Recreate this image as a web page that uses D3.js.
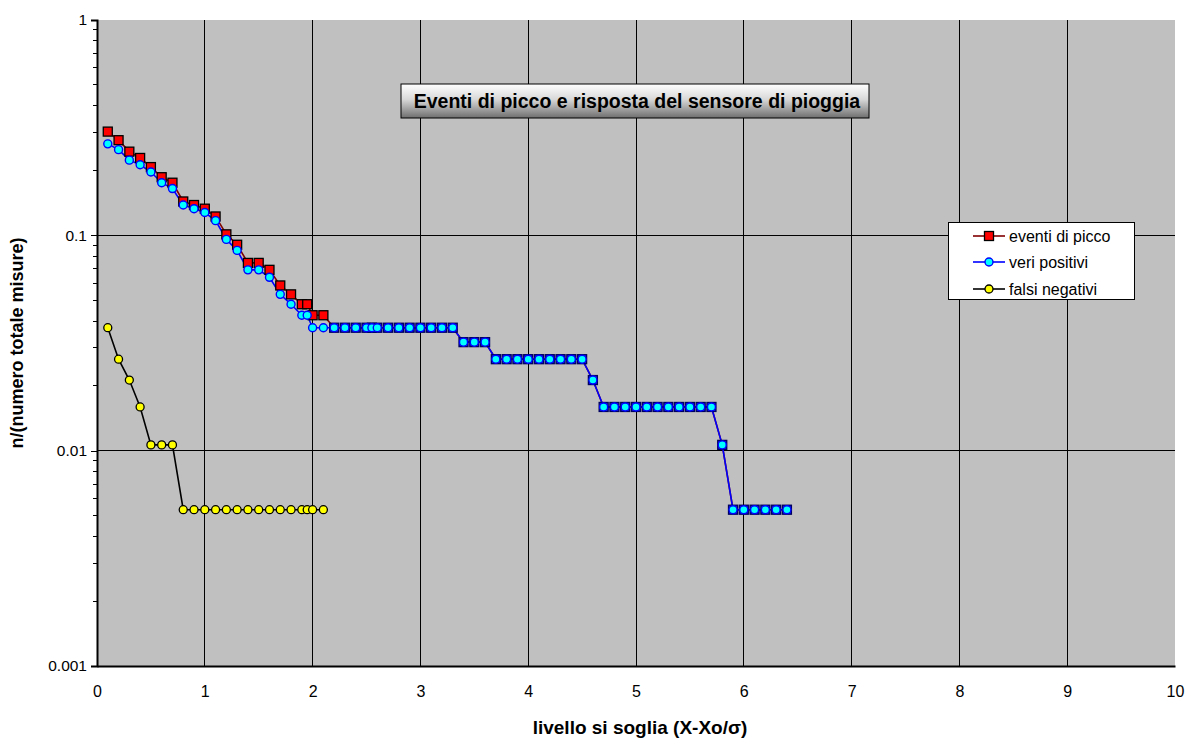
<!DOCTYPE html>
<html>
<head>
<meta charset="utf-8">
<script src="https://cdn.jsdelivr.net/npm/d3@7"></script>
<style>
  html, body { margin: 0; padding: 0; background: #ffffff; }
  svg { display: block; font-family: "Liberation Sans", Arial, sans-serif; }
</style>
</head>
<body>
<svg id="chart" width="1189" height="738"></svg>
<script>
// ---------------- DATA ----------------
const totalMeasures = 188;
// threshold levels (X-Xo/sigma)
const levels = [0.1,0.2,0.3,0.4,0.5,0.6,0.7,0.8,0.9,1.0,1.1,1.2,1.3,1.4,1.5,1.6,1.7,1.8,1.9,1.95,2.0,2.1,
  2.2,2.3,2.4,2.5,2.55,2.6,2.7,2.8,2.9,3.0,3.1,3.2,3.3,3.4,3.5,3.6,3.7,3.8,3.9,4.0,4.1,4.2,4.3,4.4,4.5,
  4.6,4.7,4.8,4.9,5.0,5.1,5.2,5.3,5.4,5.5,5.6,5.7,5.8,5.9,6.0,6.1,6.2,6.3,6.4];
// counts (n) per level
const eventiDiPiccoCounts = [57,52,46,43,39,35,33,27,26,25,23,19,17,14,14,13,11,10,9,9,8,8,
  7,7,7,7,7,7,7,7,7,7,7,7,7,6,6,6,5,5,5,5,5,5,5,5,5,
  4,3,3,3,3,3,3,3,3,3,3,3,2,1,1,1,1,1,1];
const veriPositiviCounts = [50,47,42,40,37,33,31,26,25,24,22,18,16,13,13,12,10,9,8,8,7,7,
  7,7,7,7,7,7,7,7,7,7,7,7,7,6,6,6,5,5,5,5,5,5,5,5,5,
  4,3,3,3,3,3,3,3,3,3,3,3,2,1,1,1,1,1,1];
const falsiNegativiCounts = [7,5,4,3,2,2,2,1,1,1,1,1,1,1,1,1,1,1,1,1,1,1];

const xTicks = [0,1,2,3,4,5,6,7,8,9,10];
const yTicks = [1,0.1,0.01,0.001];
const yTickLabels = ["1","0.1","0.01","0.001"];
const seriesNames = ["eventi di picco","veri positivi","falsi negativi"];
const chartTitle = "Eventi di picco e risposta del sensore di pioggia";
const xTitle = "livello si soglia (X-Xo/\u03C3)";
const yTitle = "n/(numero totale misure)";

// ---------------- BUILD ----------------
const toPoints = counts => counts.map((c, i) => ({x: levels[i], y: c / totalMeasures}));
const series = [
  {name: seriesNames[0], pts: toPoints(eventiDiPiccoCounts), line: "#800000", marker: "square"},
  {name: seriesNames[1], pts: toPoints(veriPositiviCounts), line: "#0000ff", marker: "circleBlue"},
  {name: seriesNames[2], pts: toPoints(falsiNegativiCounts), line: "#000000", marker: "circleYellow"}
];

const svg = d3.select("#chart");
const L = 97, R = 1175, T = 20, B = 666;

const x = d3.scaleLinear().domain([0, 10]).range([L, R]);
const y = d3.scaleLog().domain([0.001, 1]).range([B, T]);

// plot background
svg.append("rect").attr("x", L).attr("y", T).attr("width", R - L).attr("height", B - T)
  .attr("fill", "#c0c0c0");

// gridlines
const g = svg.append("g");
g.selectAll(".vg").data(xTicks.filter(d => d > 0 && d < 10)).join("line")
  .attr("x1", d => x(d)).attr("x2", d => x(d)).attr("y1", T).attr("y2", B)
  .attr("stroke", "#000").attr("stroke-width", 1).attr("shape-rendering", "crispEdges");
g.selectAll(".hg").data(yTicks.filter(d => d > 0.001 && d < 1)).join("line")
  .attr("x1", L).attr("x2", R).attr("y1", d => y(d)).attr("y2", d => y(d))
  .attr("stroke", "#000").attr("stroke-width", 1).attr("shape-rendering", "crispEdges");

// Y axis
const yAxis = d3.axisLeft(y).tickValues(yTicks).tickSize(6).tickPadding(4)
  .tickFormat((d, i) => yTickLabels[i]);
const yg = svg.append("g").attr("transform", `translate(${L},0)`).call(yAxis);
yg.select(".domain").attr("stroke", "#000").attr("stroke-width", 2);
yg.selectAll(".tick line").attr("stroke", "#000").attr("shape-rendering", "crispEdges");
yg.selectAll(".tick text").attr("font-size", 15.5).attr("fill", "#000")
  .attr("font-family", "Liberation Sans, Arial, sans-serif");
// minor ticks
const minor = [];
[0.001, 0.01, 0.1].forEach(base => { for (let k = 2; k <= 9; k++) minor.push(base * k); });
svg.append("g").selectAll("line").data(minor).join("line")
  .attr("x1", L - 4).attr("x2", L).attr("y1", d => y(d)).attr("y2", d => y(d))
  .attr("stroke", "#000").attr("shape-rendering", "crispEdges");

// X axis
const xAxis = d3.axisBottom(x).tickValues(xTicks).tickSize(0).tickPadding(20)
  .tickFormat(d3.format("d"));
const xg = svg.append("g").attr("transform", `translate(0,${B})`).call(xAxis);
xg.select(".domain").attr("stroke", "#000").attr("stroke-width", 2);
xg.selectAll(".tick text").attr("font-size", 16).attr("fill", "#000")
  .attr("font-family", "Liberation Sans, Arial, sans-serif");

// axis titles
svg.append("text").attr("x", 640).attr("y", 734).attr("text-anchor", "middle")
  .attr("font-size", 19).attr("font-weight", "bold").text(xTitle);
svg.append("text").attr("transform", `translate(23,343) rotate(-90)`)
  .attr("text-anchor", "middle").attr("font-size", 18).attr("font-weight", "bold").text(yTitle);

// marker drawing
function drawMarker(sel, type) {
  if (type === "square") {
    sel.append("rect").attr("x", -4.5).attr("y", -4.5).attr("width", 9).attr("height", 9)
      .attr("fill", d => (d && d.x > 2.1) ? "#1010e0" : "#ff0000")
      .attr("stroke", d => (d && d.x > 2.1) ? "#000060" : "#000000").attr("stroke-width", 1.3);
  } else if (type === "circleBlue") {
    sel.append("circle").attr("r", 4).attr("fill", "#00ffff").attr("stroke", "#0000ff").attr("stroke-width", 1.4);
  } else {
    sel.append("circle").attr("r", 4).attr("fill", "#ffff00").attr("stroke", "#000000").attr("stroke-width", 1.3);
  }
}

const line = d3.line().x(d => x(d.x)).y(d => y(d.y));
const plot = svg.append("g");
series.forEach(s => {
  plot.append("path").datum(s.pts).attr("d", line).attr("fill", "none")
    .attr("stroke", s.line).attr("stroke-width", 1.6);
});
series.forEach(s => {
  const m = plot.append("g").selectAll("g").data(s.pts).join("g")
    .attr("transform", d => `translate(${x(d.x)},${y(d.y)})`);
  drawMarker(m, s.marker);
});

// title box
const defs = svg.append("defs");
const grad = defs.append("linearGradient").attr("id", "tg").attr("x1", 0).attr("y1", 0).attr("x2", 0).attr("y2", 1);
grad.append("stop").attr("offset", "0%").attr("stop-color", "#ffffff");
grad.append("stop").attr("offset", "45%").attr("stop-color", "#d8d8d8");
grad.append("stop").attr("offset", "100%").attr("stop-color", "#6e6e6e");
svg.append("rect").attr("x", 401).attr("y", 84).attr("width", 468).attr("height", 34)
  .attr("fill", "url(#tg)").attr("stroke", "#000").attr("stroke-width", 1);
svg.append("text").attr("x", 637).attr("y", 108).attr("text-anchor", "middle")
  .attr("font-size", 19.5).attr("font-weight", "bold").attr("fill", "#000").text(chartTitle);

// legend
const lg = svg.append("g");
lg.append("rect").attr("x", 948.5).attr("y", 222.5).attr("width", 186).attr("height", 77)
  .attr("fill", "#fff").attr("stroke", "#000");
const legY = [236, 262, 289];
series.forEach((s, i) => {
  const row = lg.append("g").attr("transform", `translate(0,${legY[i]})`);
  row.append("line").attr("x1", 973).attr("x2", 1005).attr("y1", 0).attr("y2", 0)
    .attr("stroke", s.line).attr("stroke-width", 1.6);
  const mk = row.append("g").datum({x: 0}).attr("transform", "translate(989,0)");
  drawMarker(mk, s.marker);
  row.append("text").attr("x", 1009).attr("y", 6).attr("font-size", 16).attr("fill", "#000").text(s.name);
});
</script>
</body>
</html>
